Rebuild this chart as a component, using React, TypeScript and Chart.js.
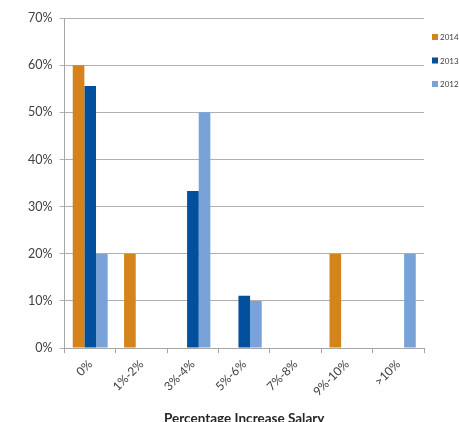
import React, { useEffect, useRef } from "react";
import { Chart, registerables } from "chart.js";

Chart.register(...registerables);

const categories = ["0%", "1%-2%", "3%-4%", "5%-6%", "7%-8%", "9%-10%", ">10%"];
const series2014 = [60, 20, 0, 0, 0, 20, 0];
const series2013 = [55.6, 0, 33.3, 11.1, 0, 0, 0];
const series2012 = [20, 0, 50, 10, 0, 0, 20];
const seriesNames = ["2014", "2013", "2012"];
const seriesColors = ["#D4841A", "#00509E", "#78A2D8"];
const yMax = 70;
const xTitle = "Percentage Increase Salary";

const FONT = "Lato, 'Open Sans', sans-serif";

// Small vertical legend drawn to the right of the plot area
const sideLegend = {
  id: "sideLegend",
  afterDraw(chart: any) {
    const { ctx, chartArea } = chart;
    ctx.save();
    ctx.font = `8px ${FONT}`;
    ctx.textBaseline = "middle";
    chart.data.datasets.forEach((ds: any, i: number) => {
      const x = chartArea.right + 8;
      const y = 37 + i * 23.5;
      ctx.fillStyle = ds.backgroundColor;
      ctx.fillRect(x, y - 3, 6, 6);
      ctx.fillStyle = "#404040";
      ctx.fillText(ds.label, x + 8, y + 0.5);
    });
    ctx.restore();
  },
};

export default function App() {
  const ref = useRef<HTMLCanvasElement>(null);

  useEffect(() => {
    const data = [series2014, series2013, series2012];
    const chart = new Chart(ref.current!, {
      type: "bar",
      data: {
        labels: categories,
        datasets: data.map((d, i) => ({
          label: seriesNames[i],
          data: d,
          backgroundColor: seriesColors[i],
          borderWidth: 0,
          categoryPercentage: 0.68,
          barPercentage: 1,
        })),
      },
      options: {
        animation: false,
        responsive: false,
        maintainAspectRatio: false,
        layout: { padding: { top: 18, right: 35, left: 21, bottom: -5 } },
        plugins: {
          legend: { display: false },
          tooltip: { enabled: false },
        },
        scales: {
          x: {
            grid: {
              offset: true,
              drawOnChartArea: false,
              drawTicks: true,
              tickLength: 5,
              color: "#A6A6A6",
            },
            border: { color: "#A6A6A6" },
            ticks: {
              color: "#404040",
              font: { family: FONT, size: 12 },
              minRotation: 45,
              maxRotation: 45,
              padding: 4,
            },
            title: {
              display: true,
              text: xTitle,
              color: "#262626",
              font: { family: FONT, size: 13.5, weight: "bold" },
              padding: { top: 8, bottom: 0 },
            },
          },
          y: {
            min: 0,
            max: yMax,
            grid: {
              color: "#B0B0B0",
              tickLength: 5,
            },
            border: { color: "#A6A6A6" },
            ticks: {
              stepSize: 10,
              color: "#404040",
              font: { family: FONT, size: 12.5 },
              padding: 7,
              callback: (v: any) => `${v}%`,
            },
          },
        },
      },
      plugins: [sideLegend],
    });
    return () => chart.destroy();
  }, []);

  return (
    <div style={{ position: "fixed", left: 0, top: 0, width: 459, height: 422, background: "#fff" }}>
      <canvas ref={ref} width={459} height={422} />
    </div>
  );
}
